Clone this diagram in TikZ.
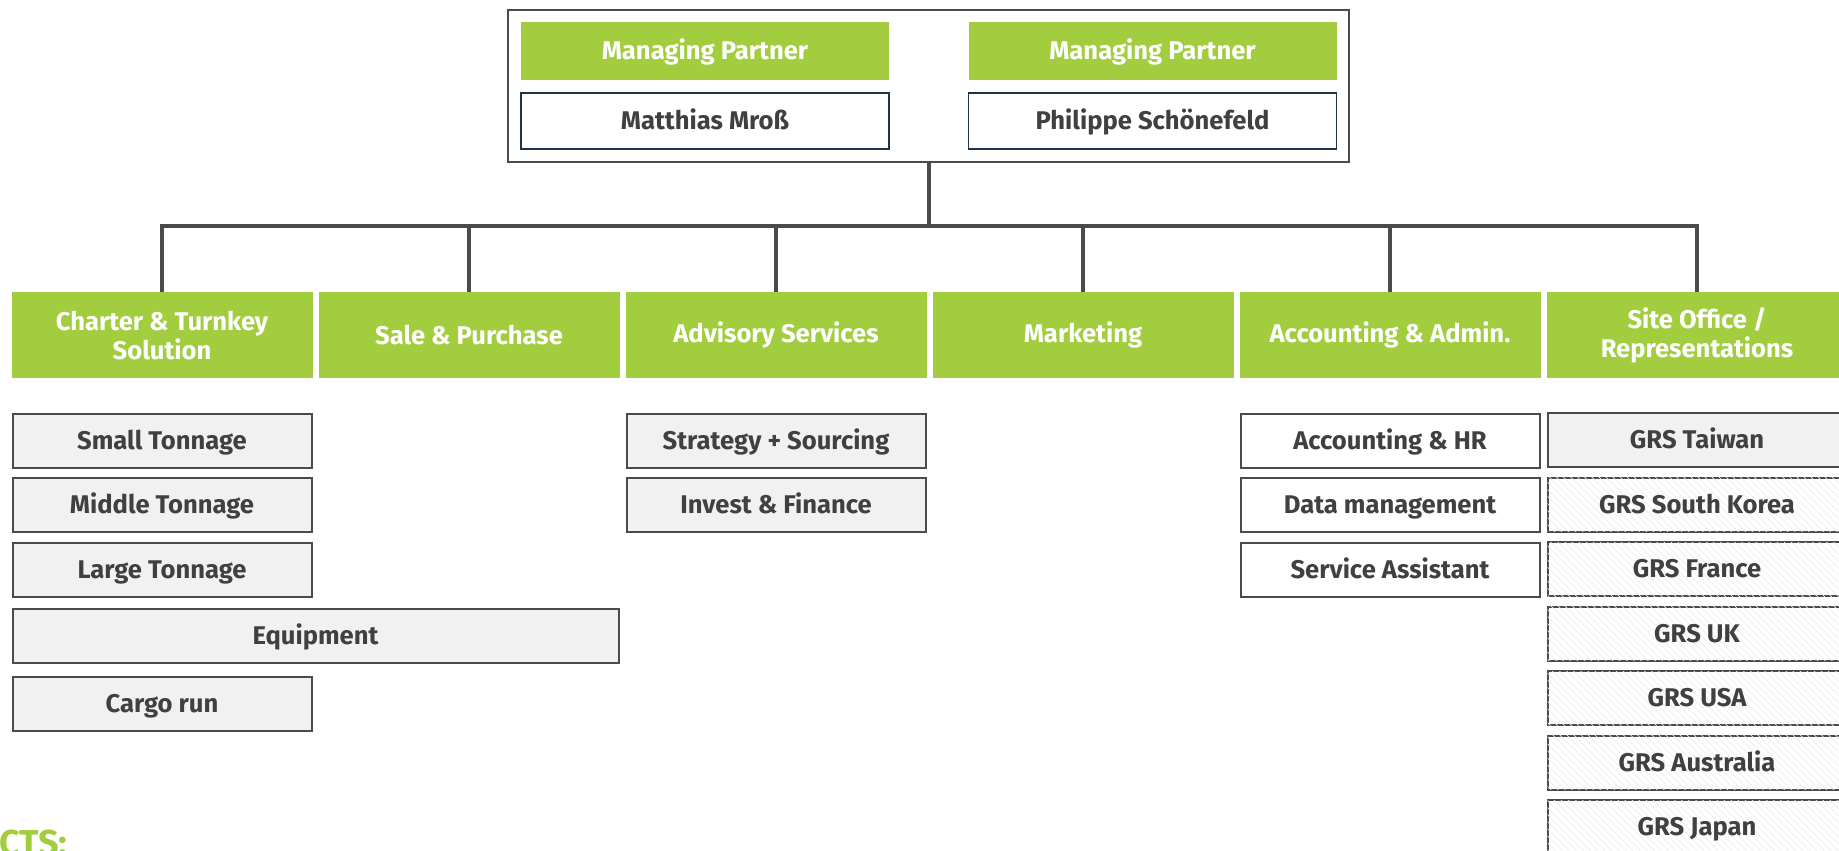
\documentclass[tikz,border=0pt]{standalone}
\usepackage{fontspec}
\setmainfont{Fira Sans}
\usetikzlibrary{patterns.meta}
\definecolor{grsgreen}{HTML}{A2CD3F}
\definecolor{linegray}{HTML}{4A4A4F}
\definecolor{boxgray}{HTML}{F1F1F1}
\definecolor{textgray}{HTML}{404040}
\definecolor{namenavy}{HTML}{22324A}

\begin{document}
\begin{tikzpicture}[x=1pt, y=-1pt,
                    font=\fontsize{25.6}{29}\selectfont\bfseries,
                    link/.style={draw=linegray, line width=4pt},
                    caps/.style={text height=17.6pt, text depth=0pt},
                    board/.style={draw=linegray, line width=1.6pt, minimum width=841pt, minimum height=152pt},
                    partner/.style={caps, fill=grsgreen, text=white, inner sep=0pt, minimum width=368pt, minimum height=58pt},
                    person/.style={caps, draw=namenavy, line width=1.6pt, fill=white, text=textgray, inner sep=0pt, minimum width=368pt, minimum height=56pt},
                    dept/.style={fill=grsgreen, text=white, align=center, inner sep=0pt, minimum width=301pt, minimum height=86pt},
                    unit/.style={caps, draw=linegray, line width=2pt, fill=boxgray, text=textgray, inner sep=0pt, minimum width=299pt, minimum height=54pt},
                    plainunit/.style={unit, fill=white},
                    office/.style={unit, fill=white,
                                   postaction={pattern={Lines[angle=-45,distance=5pt,line width=0.7pt]}, pattern color=black!7}}]
  \useasboundingbox (0,0) rectangle (1839,851);
  \def\xStep{307}
  \def\yStep{64.5}

  % managing partners
  \node[board]   (top) at (928.5,86) {};
  \node[partner] (mp1) at (705,51)    {Managing Partner};
  \node[partner] (mp2) at (1152.5,51) {Managing Partner};
  \node[person]  (pn1) at (705,121)    {Matthias Mroß};
  \node[person]  (pn2) at (1152.5,121) {Philippe Schönefeld};

  % departments
  \foreach \label [count=\i from 0, evaluate={\xc=162+\xStep*\i;}]
              in {{Charter \& Turnkey\\Solution}, {Sale \& Purchase}, {Advisory Services},
                  {Marketing}, {Accounting \& Admin.}, {Site Office /\\Representations}}{
    \node[dept] (d\i) at (\xc,335) {\label};
  }

  % tree lines
  \coordinate (hub) at (928.5,226);
  \draw[link] (top.south) -- (hub);
  \foreach \i in {0,...,5}{
    \draw[link] (hub) -| (d\i.north);
  }

  % charter & turnkey
  \foreach \label [count=\k from 0, evaluate={\yc=440.5+\yStep*\k;}]
              in {Small Tonnage, Middle Tonnage, Large Tonnage}{
    \node[unit] (c\k) at (162,\yc) {\label};
  }
  \node[unit, minimum width=606pt] (c3) at (315.5,636) {Equipment};
  \node[unit] (c4) at (162,703.5) {Cargo run};

  % advisory
  \node[unit] (a0) at (776,440.5) {Strategy + Sourcing};
  \node[unit] (a1) at (776,505)   {Invest \& Finance};

  % accounting
  \foreach \label [count=\k from 0, evaluate={\yc=440.5+\yStep*\k;}]
              in {Accounting \& HR, Data management, Service Assistant}{
    \node[plainunit] (h\k) at (1390,\yc) {\label};
  }

  % site offices
  \foreach \label [count=\k from 0, evaluate={\yc=440+\yStep*\k;}]
              in {Taiwan, South Korea, France, UK, USA, Australia, Japan}{
    \ifnum\k=0 \node[unit]   (o\k) at (1697,\yc) {GRS \label};
    \else      \node[office] (o\k) at (1697,\yc) {GRS \label};
    \fi
  }

  \node[anchor=north west, inner sep=0pt, text=grsgreen,
        font=\fontsize{36}{40}\selectfont\bfseries] (contacts) at (-1,830) {CTS:};
\end{tikzpicture}
\end{document}
